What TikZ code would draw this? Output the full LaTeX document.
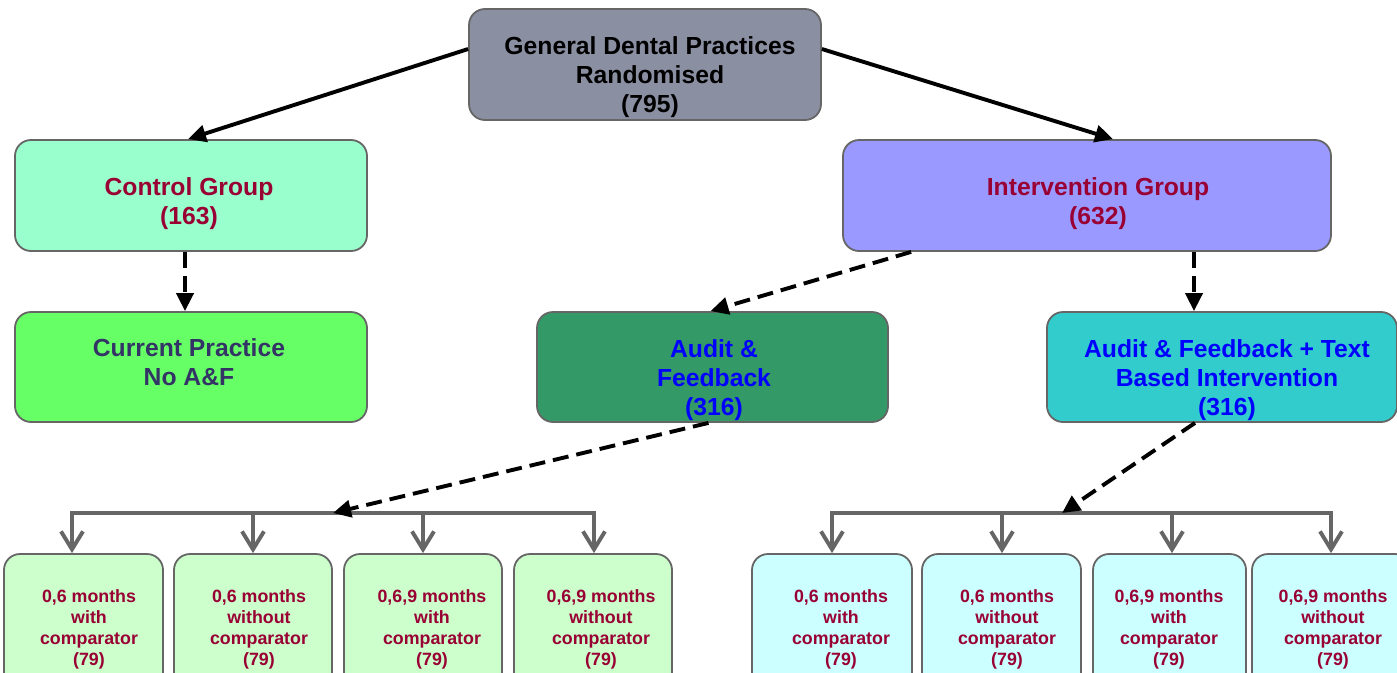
\documentclass[tikz,border=0pt]{standalone}
\usepackage{fontspec}
\setmainfont{Liberation Sans}
\usetikzlibrary{arrows.meta,calc}

\definecolor{edgegray}{RGB}{102,102,102}
\definecolor{topfill}{RGB}{139,143,162}
\definecolor{ctrlfill}{RGB}{153,255,204}
\definecolor{intvfill}{RGB}{153,153,255}
\definecolor{curfill}{RGB}{102,255,102}
\definecolor{affill}{RGB}{51,153,102}
\definecolor{aftfill}{RGB}{51,204,204}
\definecolor{armgreen}{RGB}{204,255,204}
\definecolor{armcyan}{RGB}{204,255,255}
\definecolor{wine}{RGB}{153,0,51}
\definecolor{navy}{RGB}{51,51,102}
\definecolor{pureblue}{RGB}{0,0,255}

\tikzset{
  panel/.style={draw=edgegray, line width=1.8pt, rounded corners=16pt,
    rectangle, inner sep=0pt},
  bigtext/.style={align=center, inner sep=0pt,
    font=\fontsize{24.7}{29}\selectfont\bfseries},
  smalltext/.style={align=center, inner sep=0pt, text=wine,
    font=\fontsize{17.8}{21}\selectfont\bfseries},
  solidarrow/.style={line width=3.9pt, -{Triangle[length=18pt,width=17pt]}},
  dasharrow/.style={line width=3.9pt, dash pattern=on 16pt off 8pt,
    -{Triangle[length=18pt,width=17pt]}},
  bar/.style={draw=edgegray, line width=3.9pt, line cap=rect},
  drop/.style={draw=edgegray, line width=3.9pt,
    -{Straight Barb[length=18pt,width=22pt]}}
}

\begin{document}
\begin{tikzpicture}[x=1pt,y=-1pt]
\useasboundingbox (0,0) rectangle (1397,672);
\clip (0,0) rectangle (1397,672);

% top-level and arm boxes
\node[panel, fill=topfill, minimum width=352pt, minimum height=111pt] (top) at (645,64.5) {};
\node[panel, fill=ctrlfill, minimum width=352pt, minimum height=111pt] (ctrl) at (191,195.5) {};
\node[panel, fill=intvfill, minimum width=488pt, minimum height=111pt] (intv) at (1087,195.5) {};
\node[panel, fill=curfill, minimum width=352pt, minimum height=110pt] (cur) at (191,367) {};
\node[panel, fill=affill, minimum width=351pt, minimum height=110pt] (af) at (712.5,367) {};
\node[panel, fill=aftfill, minimum width=350pt, minimum height=110pt] (aft) at (1222,367) {};

% labels of the upper boxes
\node[bigtext] (topT) at (650,77.5) {General Dental Practices\\Randomised\\(795)};
\node[bigtext, text=wine] (ctrlT) at (189,203.5) {Control Group\\(163)};
\node[bigtext, text=wine] (intvT) at (1098,203.5) {Intervention Group\\(632)};
\node[bigtext, text=navy] (curT) at (189,362.5) {Current Practice\\No A\&F};
\node[bigtext, text=pureblue] (afT) at (714,380.5) {Audit \&\\Feedback\\(316)};
\node[bigtext, text=pureblue] (aftT) at (1227,380.5) {Audit \& Feedback + Text\\Based Intervention\\(316)};

% feedback arms, audit & feedback only
\node[panel, fill=armgreen, minimum width=159pt, minimum height=136pt] (b1) at (83.5,622) {};
\node[panel, fill=armgreen, minimum width=158pt, minimum height=136pt] (b2) at (253,622) {};
\node[panel, fill=armgreen, minimum width=158pt, minimum height=136pt] (b3) at (423,622) {};
\node[panel, fill=armgreen, minimum width=158pt, minimum height=136pt] (b4) at (593,622) {};
% feedback arms, audit & feedback + text
\node[panel, fill=armcyan, minimum width=160pt, minimum height=136pt] (b5) at (832,622) {};
\node[panel, fill=armcyan, minimum width=159pt, minimum height=136pt] (b6) at (1001.5,622) {};
\node[panel, fill=armcyan, minimum width=153pt, minimum height=136pt] (b7) at (1169.5,622) {};
\node[panel, fill=armcyan, minimum width=159pt, minimum height=136pt] (b8) at (1331.5,622) {};

\node[smalltext] (b1T) at (89,629) {0,6 months\\with\\comparator\\(79)};
\node[smalltext] (b2T) at (259,629) {0,6 months\\without\\comparator\\(79)};
\node[smalltext] (b3T) at (432,629) {0,6,9 months\\with\\comparator\\(79)};
\node[smalltext] (b4T) at (601,629) {0,6,9 months\\without\\comparator\\(79)};
\node[smalltext] (b5T) at (841,629) {0,6 months\\with\\comparator\\(79)};
\node[smalltext] (b6T) at (1007,629) {0,6 months\\without\\comparator\\(79)};
\node[smalltext] (b7T) at (1169,629) {0,6,9 months\\with\\comparator\\(79)};
\node[smalltext] (b8T) at (1333,629) {0,6,9 months\\without\\comparator\\(79)};

% randomisation arrows
\draw[solidarrow] (top.175) -- ([xshift=-3pt]ctrl.north);
\draw[solidarrow] (top.5) -- ([xshift=26pt]intv.north);

% allocation arrows
\draw[dasharrow] ([xshift=-6pt]ctrl.south) -- ([xshift=-6pt]cur.north);
\draw[dasharrow] ([xshift=69pt]intv.south west) -- ([xshift=-2pt]af.north);
\draw[dasharrow] ([xshift=107pt]intv.south) -- ([xshift=107pt]intv.south |- aft.north);

% distribution bars
\coordinate (d1) at (72,513);
\coordinate (d2) at (253,513);
\coordinate (d3) at (423,513);
\coordinate (d4) at (594,513);
\coordinate (d5) at (832,513);
\coordinate (d6) at (1002,513);
\coordinate (d7) at (1172,513);
\coordinate (d8) at (1331,513);
\coordinate (lj) at (333,513);
\coordinate (rj) at (1062,513);

\draw[bar] (d1) -- (d4);
\draw[bar] (d5) -- (d8);
\foreach \d/\b in {d1/b1,d2/b2,d3/b3,d4/b4,d5/b5,d6/b6,d7/b7,d8/b8}
  \draw[drop] (\d) -- (\d |- \b.north);

\draw[dasharrow] ([xshift=-4pt]af.south) -- (lj);
\draw[dasharrow] ([xshift=-27pt]aft.south) -- (rj);
\end{tikzpicture}
\end{document}
